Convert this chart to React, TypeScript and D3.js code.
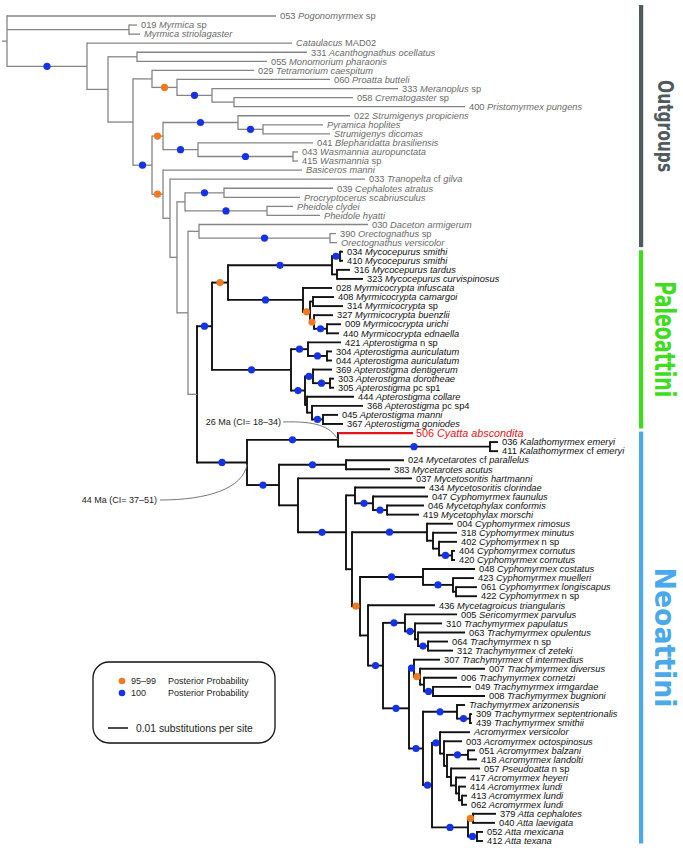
import React, { useMemo } from 'react';
import * as d3 from 'd3';

// ---------------- DATA ----------------
// Branch lengths are in thousandths of a substitution per site; B = 100 PP, O = 95–99 PP
const ATTA = "((379_Atta_cephalotes:11.5,040_Atta_laevigata:11)O:2.5,(052_Atta_mexicana:3,412_Atta_texana:3)B:4.5)B:18";
const ACROMYRMEX = "(Acromyrmex_versicolor:15,(003_Acromyrmex_octospinosus:9,((051_Acromyrmex_balzani:3.5,418_Acromyrmex_landolti:4.5)B:10.5,(057_Pseudoatta_n_sp:14.5,(417_Acromyrmex_heyeri:5,(414_Acromyrmex_lundi:3.5,(413_Acromyrmex_lundi:2.5,062_Acromyrmex_lundi:2.5):1.5):1.5):2.5):2):1.5):2)B:4";
const TRACHY_Z = "((Trachymyrmex_arizonensis:4,(309_Trachymyrmex_septentrionalis:1,439_Trachymyrmex_smithii:1)B:6.5)B:17,(" + ACROMYRMEX + "," + ATTA + ")B:4.5)B:7";
const TRACHY_U = "((307_Trachymyrmex_cf_intermedius:13,(007_Trachymyrmex_diversus:32.5,(006_Trachymyrmex_cornetzi:16.5,(049_Trachymyrmex_irmgardae:19,008_Trachymyrmex_bugnioni:26)B:4.5):2)O:3)B:2.5," + TRACHY_Z + ")B:13";
const TRACHY_Q = "(005_Sericomyrmex_parvulus:26,(310_Trachymyrmex_papulatus:13.5,(063_Trachymyrmex_opulentus:23.5,(064_Trachymyrmex_n_sp:10,312_Trachymyrmex_cf_zeteki:12.5)B:5):1.5)B:5)B:11";
const HIGHER = "(436_Mycetagroicus_triangularis:33.5,(" + TRACHY_Q + "," + TRACHY_U + ")B:7.5):4";
const CYPHO_COSTATUS = "(048_Cyphomyrmex_costatus:26,(423_Cyphomyrmex_muelleri:10.5,(061_Cyphomyrmex_longiscapus:10.5,422_Cyphomyrmex_n_sp:10.5):1.5)B:15)B:31.5";
const NEOATTINI = "(" +
  "(506_Cyatta_abscondita:37.5,(036_Kalathomyrmex_emeryi:4,411_Kalathomyrmex_cf_emeryi:4)B:76)B:45.5," +
  "((024_Mycetarotes_cf_parallelus:29,383_Mycetarotes_acutus:22)B:33.5," +
  "(037_Mycetosoritis_hartmanni:57," +
  "((434_Mycetosoritis_clorindae:35,(047_Cyphomyrmex_faunulus:27.5,(046_Mycetophylax_conformis:18.5,419_Mycetophylax_morschi:16)B:7)B:9):4.5," +
  "((004_Cyphomyrmex_rimosus:13,(318_Cyphomyrmex_minutus:12,(402_Cyphomyrmex_n_sp:9,(404_Cyphomyrmex_cornutus:1.5,420_Cyphomyrmex_cornutus:1.5)B:6.5):3):3)B:37.5," +
  "(" + CYPHO_COSTATUS + "," + HIGHER + ")O:4" +
  "):3" +
  ")B:24" +
  "):9.5" +
  ")B:16" +
  ")B:25";
const PALEOATTINI = "((" +
  "((034_Mycocepurus_smithi:1.5,410_Mycocepurus_smithi:1.5)B:4,(316_Mycocepurus_tardus:6.5,323_Mycocepurus_curvispinosus:13):2.5)B:52," +
  "(028_Myrmicocrypta_infuscata:14.5,((408_Myrmicocrypta_camargoi:10.5,314_Myrmicocrypta_sp:15):1.5,(327_Myrmicocrypta_buenzlii:9.5,(009_Myrmicocrypta_urichi:7,440_Myrmicocrypta_ednaella:6)B:6.5)O:2)O:3.5)B:37.5" +
  ")O:8," +
  "((421_Apterostigma_n_sp:16.5,(304_Apterostigma_auriculatum:2.5,044_Apterostigma_auriculatum:2.5)B:9.5)B:8.5," +
  "((369_Apterostigma_dentigerum:9.5,(303_Apterostigma_dorotheae:2,305_Apterostigma_pc_sp1:2)B:8.5)B:4," +
  "(444_Apterostigma_collare:23.5,(368_Apterostigma_pc_sp4:25.5,(045_Apterostigma_manni:7.5,367_Apterostigma_goniodes:10)B:5.5):2.5):1)B:7" +
  ")B:39.5" +
  ")B:7.5";
const ATTINI = "(" + PALEOATTINI + "," + NEOATTINI + ")ATT:4.5";
const OUT_E = "((022_Strumigenys_propiciens:56,(Pyramica_hoplites:30,Strumigenys_dicomas:33.5)B:12.5)B:37.5,(041_Blepharidatta_brasiliensis:57.5,(043_Wasmannia_auropunctata:2.5,415_Wasmannia_sp:2.5)B:47.5)B:17.5)O:5.5";
const OUT_F = "(Basiceros_manni:69.5,(033_Tranopelta_cf_gilva:97.5,(((039_Cephalotes_atratus:54.5,Procryptocerus_scabriusculus:38)B:19.5,(Pheidole_clydei:13,Pheidole_hyatti:26.5)B:41):4,((030_Daceton_armigerum:84.5,(390_Orectognathus_sp:3,Orectognathus_versicolor:3.5)B:65.5):5.5," + ATTINI + "):5.5):3.5):3.5)O:5.5";
const TREE = "(053_Pogonomyrmex_sp:134.5,(019_Myrmica_sp:4,Myrmica_striolagaster:5.5):61,(Cataulacus_MAD02:102.5,((331_Acanthognathus_ocellatus:85,055_Monomorium_pharaonis:65):14.5,((029_Tetramorium_caespitum:51,(060_Proatta_butteli:76.5,(333_Meranoplus_sp:93,(058_Crematogaster_sp:59.5,400_Pristomyrmex_pungens:115.5):11)B:17.5)O:12.5):9.5,(" + OUT_E + "," + OUT_F + ")B:9.5):12.5):10.5)B:40);";

const UPRIGHT_WORDS = ['sp', 'n', 'cf', 'pc', 'sp1', 'sp4', 'MAD02'];
const HIGHLIGHT_TAXON = '506_Cyatta_abscondita';

const GROUP_NAMES = ['Outgroups', 'Paleoattini', 'Neoattini'];
const GROUP_FIRST = ['053_Pogonomyrmex_sp', '034_Mycocepurus_smithi', '506_Cyatta_abscondita'];
const GROUP_LAST = ['Orectognathus_versicolor', '367_Apterostigma_goniodes', '412_Atta_texana'];

const AGE_LABELS = ['26 Ma (CI= 18–34)', '44 Ma (CI= 37–51)'];
const AGE_MRCA = [
  ['506_Cyatta_abscondita', '411_Kalathomyrmex_cf_emeryi'],
  ['506_Cyatta_abscondita', '412_Atta_texana'],
];

const LEGEND_CLASSES = ['95–99', '100'];
const LEGEND_TEXT = 'Posterior Probability';
const SCALE_VALUE = 0.01;
const SCALE_LABEL = '0.01 substitutions per site';
const UNIT = 0.001;

// ---------------- STYLE ----------------
const W = 683, H = 855;
const FONT = "'Liberation Sans', Arial, Helvetica, sans-serif";
const GRAY_LINE = '#858585';
const GRAY_TEXT = '#6a6a6a';
const BLACK = '#111111';
const RED = '#e3121b';
const BLUE = '#1432e6';
const ORANGE = '#f07a22';
const GROUP_COLORS = ['#4e5a5e', '#3fdc1f', '#49a9ea'];
const GROUP_PAD_TOP = [11, 1.5, 1.5];
const GROUP_PAD_BOTTOM = [4.5, 4.5, 2.5];
const GROUP_FONT = [22, 28, 28];
const GROUP_LEN = [92, 116, 140];
const TIP_FONT = 9.3;

function parseNewick(s: string) {
  let i = 0;
  function node(): any {
    const n: any = {};
    if (s[i] === '(') {
      n.children = [];
      i++;
      while (i < s.length) {
        n.children.push(node());
        if (s[i] === ',') { i++; continue; }
        if (s[i] === ')') { i++; break; }
      }
    }
    let name = '';
    while (i < s.length && !',():;'.includes(s[i])) name += s[i++];
    n.name = name;
    n.length = 0;
    if (s[i] === ':') {
      i++;
      let num = '';
      while (i < s.length && !',();'.includes(s[i])) num += s[i++];
      n.length = +num;
    }
    return n;
  }
  return node();
}

function labelParts(name: string) {
  const tokens = name.split('_');
  return tokens.map((t, k) => ({
    text: (k ? ' ' : '') + t,
    italic: !(/^\d{3}$/.test(t) || UPRIGHT_WORDS.includes(t)),
  }));
}

export default function App() {
  const layout = useMemo(() => {
    const root: any = d3.hierarchy(parseNewick(TREE));
    const leaves = root.leaves();
    const x = d3.scaleLinear().domain([0, SCALE_VALUE]).range([7, 27]);
    const y = d3.scaleLinear().domain([0, leaves.length - 1]).range([16, 841]);
    root.eachBefore((n: any) => {
      n.dist = (n.parent ? n.parent.dist : 0) + n.data.length * UNIT;
      n.px = x(n.dist);
    });
    leaves.forEach((l: any, i: number) => { l.py = y(i); });
    root.eachAfter((n: any) => {
      if (n.children) n.py = (n.children[0].py + n.children[n.children.length - 1].py) / 2;
    });
    let att: any = null;
    root.each((n: any) => { if (n.data.name === 'ATT') att = n; });
    att.each((n: any) => { n.attine = true; });
    const byName: Record<string, any> = {};
    leaves.forEach((l: any) => { byName[l.data.name] = l; });
    const mrca = (a: string, b: string) => {
      const anc = new Set(byName[a].ancestors());
      return byName[b].ancestors().find((n: any) => anc.has(n));
    };
    return { root, leaves, x, byName, mrca };
  }, []);

  const { root, leaves, x, byName, mrca } = layout;
  const nodes: any[] = root.descendants();

  const stems: any[] = [];
  const verts: any[] = [];
  const dots: any[] = [];
  nodes.forEach((n: any, i: number) => {
    if (n.parent) {
      const isRed = n.data.name === HIGHLIGHT_TAXON;
      const black = n.attine && n.data.name !== 'ATT';
      stems.push(
        <line key={'s' + i} x1={n.parent.px} x2={n.px} y1={n.py} y2={n.py}
          stroke={isRed ? RED : black ? BLACK : GRAY_LINE}
          strokeWidth={isRed ? 2.3 : black ? 1.9 : 1.3} />
      );
      if (n.data.name === 'B' || n.data.name === 'O') {
        dots.push(
          <circle key={'d' + i} cx={(n.parent.px + n.px) / 2} cy={n.py} r={3.6}
            fill={n.data.name === 'B' ? BLUE : ORANGE} />
        );
      }
    }
    if (n.children) {
      const sw = n.attine ? 1.9 : 1.3;
      const y1 = n.children[0].py, y2 = n.children[n.children.length - 1].py;
      verts.push(
        <line key={'v' + i} x1={n.px} x2={n.px} y1={y1 - sw / 2} y2={y2 + sw / 2}
          stroke={n.attine ? BLACK : GRAY_LINE} strokeWidth={sw} />
      );
    }
  });

  const labels = leaves.map((l: any, i: number) => {
    const isRed = l.data.name === HIGHLIGHT_TAXON;
    const parts = labelParts(l.data.name);
    return (
      <text key={'t' + i} x={l.px + (isRed ? 3 : 4)} y={l.py + (isRed ? 0.6 : 0)} dy="0.35em"
        fontSize={isRed ? 10.8 : TIP_FONT} fontFamily={FONT}
        fill={isRed ? RED : l.attine ? BLACK : GRAY_TEXT}>
        {parts.map((p, k) => (
          <tspan key={k} fontStyle={p.italic ? 'italic' : 'normal'}>{p.text}</tspan>
        ))}
      </text>
    );
  });

  // clade bars
  const groups = GROUP_NAMES.map((g, i) => {
    const y1 = byName[GROUP_FIRST[i]].py - GROUP_PAD_TOP[i];
    const y2 = byName[GROUP_LAST[i]].py + GROUP_PAD_BOTTOM[i];
    const cy = (y1 + y2) / 2;
    return (
      <g key={'g' + i}>
        <rect x={639} y={y1} width={4.2} height={y2 - y1} fill={GROUP_COLORS[i]} />
        <text transform={`translate(${i === 0 ? 658 : 655},${cy}) rotate(90)`} textAnchor="middle"
          fontFamily="'Liberation Sans Narrow', 'DejaVu Sans Condensed', 'Liberation Sans', sans-serif"
          fontWeight="bold" fontSize={GROUP_FONT[i]} fill={GROUP_COLORS[i]}
          textLength={GROUP_LEN[i]} lengthAdjust="spacingAndGlyphs">{g}</text>
      </g>
    );
  });

  // age annotations
  const n26 = mrca(AGE_MRCA[0][0], AGE_MRCA[0][1]);
  const n44 = mrca(AGE_MRCA[1][0], AGE_MRCA[1][1]);
  const a1 = { x: 283, y: 422 };
  const a2 = { x: 160, y: 500 };
  const curve1 = `M${a1.x},${a1.y} C${a1.x + 32},${a1.y - 1} ${n26.px - 8},${n26.py - 14} ${n26.px},${n26.py}`;
  const curve2 = `M${a2.x},${a2.y} C${a2.x + 48},${a2.y} ${n44.px - 4},${n44.py + 26} ${n44.px},${n44.py + 2}`;

  const scaleLen = x(SCALE_VALUE) - x(0);

  return (
    <div style={{ position: 'absolute', left: 0, top: 0 }}>
      <svg width={W} height={H} viewBox={`0 0 ${W} ${H}`} style={{ display: 'block', background: '#fff' }}>
        <rect width={W} height={H} fill="#fff" />
        <line x1={2} x2={root.px} y1={root.py} y2={root.py} stroke={GRAY_LINE} strokeWidth={1.3} />
        {verts}
        {stems}
        {dots}
        {labels}
        {groups}
        <path d={curve1} fill="none" stroke="#777" strokeWidth={1} />
        <path d={curve2} fill="none" stroke="#777" strokeWidth={1} />
        <text x={a1.x - 2} y={a1.y} dy="0.35em" textAnchor="end" fontSize={9} fontFamily={FONT} fill="#222">{AGE_LABELS[0]}</text>
        <text x={a2.x - 3} y={a2.y} dy="0.35em" textAnchor="end" fontSize={9} fontFamily={FONT} fill="#222">{AGE_LABELS[1]}</text>
        {/* legend */}
        <rect x={93} y={662} width={182} height={81} rx={16} ry={16} fill="#fff" stroke={BLACK} strokeWidth={1.3} />
        {LEGEND_CLASSES.map((c, i) => (
          <g key={'l' + i}>
            <circle cx={122} cy={681 + i * 12} r={3.3} fill={i === 0 ? ORANGE : BLUE} />
            <text x={131} y={681 + i * 12} dy="0.35em" fontSize={9} fontFamily={FONT} fill="#222">{c}</text>
            <text x={168} y={681 + i * 12} dy="0.35em" fontSize={9} fontFamily={FONT} fill="#222">{LEGEND_TEXT}</text>
          </g>
        ))}
        <line x1={108} x2={108 + scaleLen} y1={728} y2={728} stroke={BLACK} strokeWidth={1.5} />
        <text x={136} y={728} dy="0.35em" fontSize={10.3} fontFamily={FONT} fill="#222">{SCALE_LABEL}</text>
      </svg>
    </div>
  );
}
